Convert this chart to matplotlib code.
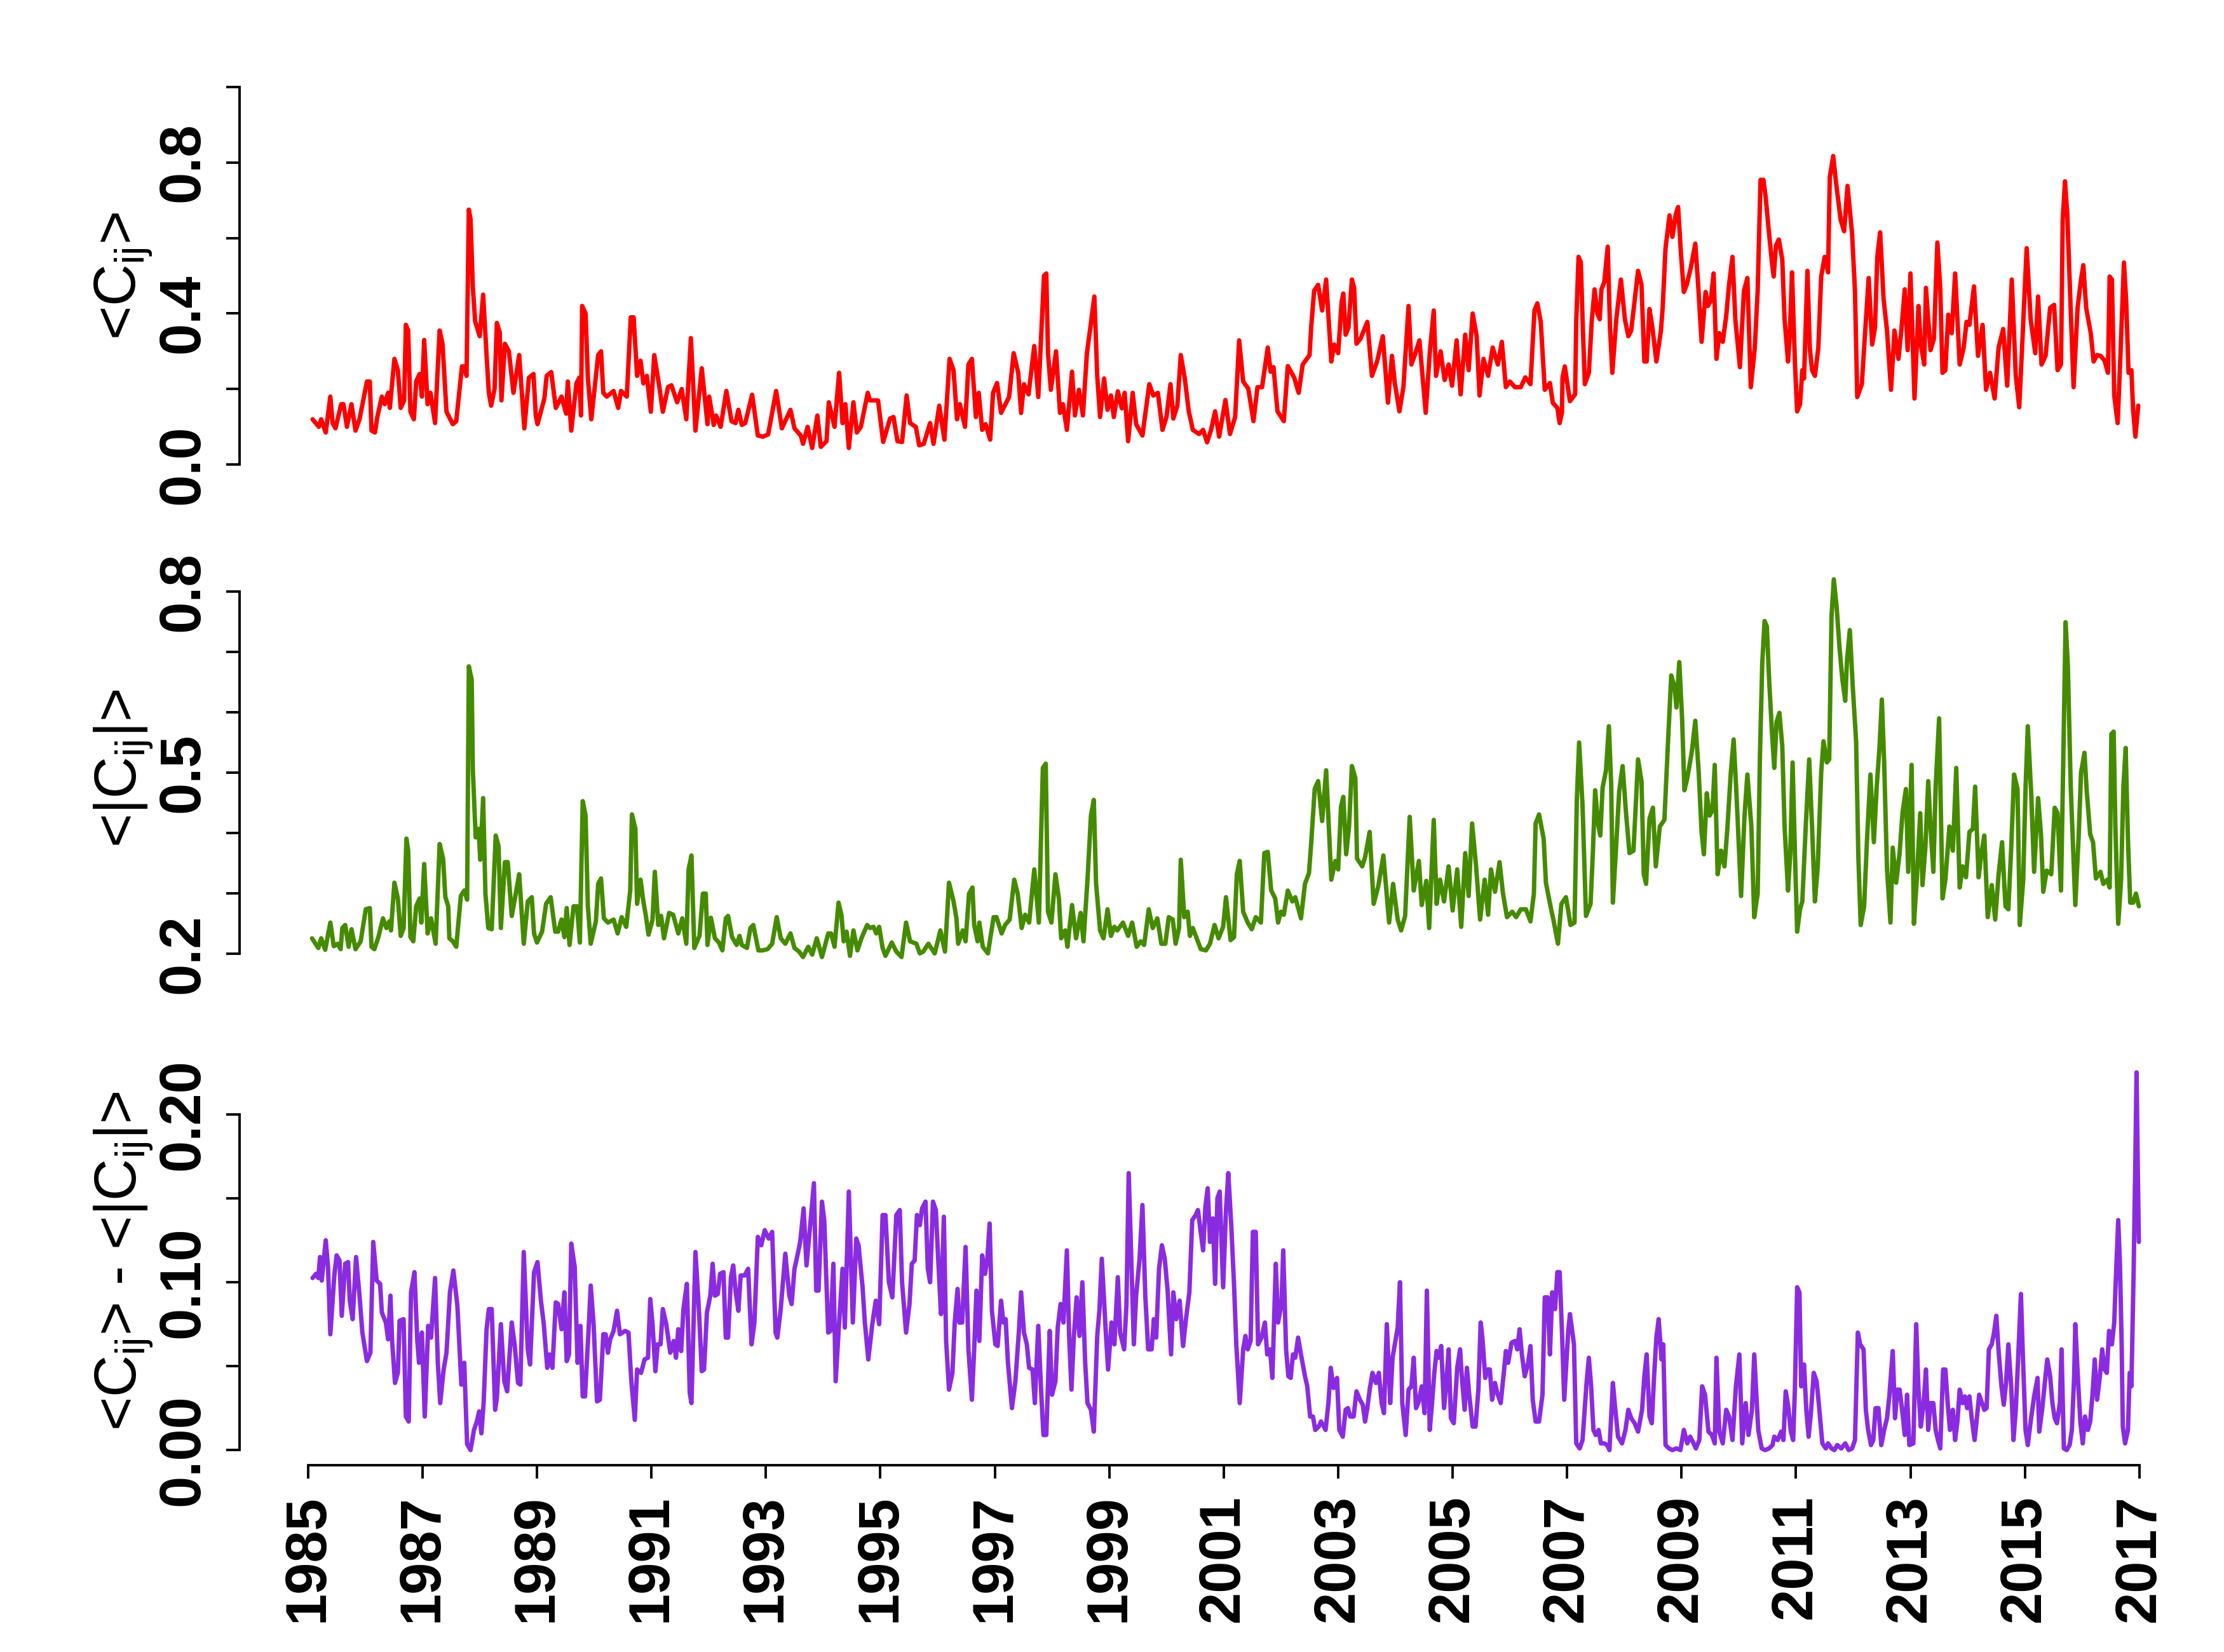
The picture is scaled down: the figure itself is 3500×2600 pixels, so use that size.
import matplotlib
matplotlib.use("Agg")
import matplotlib.pyplot as plt

plt.rcParams['font.family'] = ['Liberation Sans', 'DejaVu Sans']
plt.rcParams['mathtext.fontset'] = 'custom'
plt.rcParams['mathtext.rm'] = 'Liberation Sans'
plt.rcParams['mathtext.it'] = 'Liberation Sans'
plt.rcParams['mathtext.bf'] = 'Liberation Sans:bold'

# ---------------- data (date in years, value) ----------------
mean_c = [
    (1985.08, .12), (1985.19, .10), (1985.23, .12), (1985.31, .085), (1985.39, .18), (1985.43, .11),
    (1985.48, .096), (1985.58, .16), (1985.62, .16), (1985.68, .10), (1985.76, .16), (1985.83, .09),
    (1985.90, .12), (1986.03, .22), (1986.08, .22), (1986.11, .09), (1986.17, .085), (1986.21, .125),
    (1986.29, .18), (1986.34, .16), (1986.40, .19), (1986.43, .15), (1986.51, .28), (1986.57, .25),
    (1986.62, .15), (1986.68, .17), (1986.71, .37), (1986.75, .355), (1986.79, .14), (1986.85, .12),
    (1986.89, .22), (1986.95, .24), (1986.99, .18), (1987.03, .33), (1987.09, .16), (1987.14, .19),
    (1987.22, .11), (1987.30, .355), (1987.35, .32), (1987.42, .14), (1987.53, .107), (1987.59, .115),
    (1987.69, .26), (1987.73, .26), (1987.77, .235), (1987.81, .675), (1987.84, .65), (1987.88, .47),
    (1987.92, .38), (1988.00, .34), (1988.06, .45), (1988.12, .29), (1988.16, .19), (1988.20, .156),
    (1988.26, .20), (1988.30, .375), (1988.35, .35), (1988.38, .17), (1988.44, .32), (1988.51, .30),
    (1988.59, .19), (1988.69, .29), (1988.78, .096), (1988.86, .23), (1988.94, .24), (1988.98, .13),
    (1989.01, .107), (1989.13, .175), (1989.17, .235), (1989.25, .245), (1989.33, .15), (1989.43, .18),
    (1989.51, .135), (1989.54, .22), (1989.60, .09), (1989.69, .215), (1989.74, .23), (1989.77, .13),
    (1989.79, .42), (1989.85, .40), (1989.89, .23), (1989.95, .12), (1990.07, .29), (1990.12, .30),
    (1990.16, .19), (1990.22, .18), (1990.34, .195), (1990.42, .15), (1990.47, .195), (1990.57, .18),
    (1990.64, .39), (1990.69, .39), (1990.75, .235), (1990.81, .275), (1990.86, .215), (1990.92, .235),
    (1990.99, .14), (1991.05, .29), (1991.14, .205), (1991.20, .14), (1991.29, .205), (1991.35, .21),
    (1991.45, .165), (1991.53, .20), (1991.61, .12), (1991.69, .335), (1991.77, .09), (1991.88, .255),
    (1991.98, .107), (1992.01, .18), (1992.09, .105), (1992.13, .13), (1992.21, .10), (1992.31, .195),
    (1992.40, .115), (1992.47, .11), (1992.52, .145), (1992.58, .105), (1992.64, .11), (1992.76, .185),
    (1992.86, .077), (1992.95, .074), (1993.04, .08), (1993.18, .195), (1993.28, .096), (1993.43, .145),
    (1993.50, .096), (1993.61, .077), (1993.65, .055), (1993.73, .10), (1993.81, .044), (1993.90, .13),
    (1993.96, .047), (1994.06, .062), (1994.10, .165), (1994.20, .10), (1994.28, .243), (1994.34, .11),
    (1994.39, .16), (1994.45, .044), (1994.53, .165), (1994.59, .085), (1994.66, .10), (1994.78, .19),
    (1994.82, .17), (1994.96, .17), (1995.05, .06), (1995.17, .122), (1995.23, .126), (1995.30, .062),
    (1995.38, .06), (1995.46, .183), (1995.52, .11), (1995.62, .10), (1995.68, .051), (1995.76, .055),
    (1995.87, .11), (1995.93, .055), (1996.03, .156), (1996.12, .066), (1996.21, .28),
    (1996.28, .25), (1996.34, .12), (1996.39, .16), (1996.48, .10), (1996.54, .265), (1996.60, .28),
    (1996.67, .126), (1996.72, .19), (1996.78, .092), (1996.84, .107), (1996.92, .066), (1996.97, .19),
    (1997.04, .216), (1997.11, .137), (1997.20, .164), (1997.25, .179), (1997.33, .295), (1997.41, .243),
    (1997.46, .137), (1997.51, .213), (1997.59, .186), (1997.69, .314), (1997.76, .179), (1997.86, .50),
    (1997.90, .506), (1997.93, .295), (1997.98, .198), (1998.07, .30), (1998.14, .137), (1998.19, .16),
    (1998.26, .092), (1998.35, .246), (1998.40, .13), (1998.47, .198), (1998.54, .13), (1998.61, .295),
    (1998.67, .363), (1998.74, .445), (1998.79, .235), (1998.84, .126), (1998.91, .228), (1998.97, .145),
    (1999.03, .183), (1999.08, .126), (1999.15, .194), (1999.22, .149), (1999.27, .19), (1999.33, .062),
    (1999.41, .19), (1999.47, .107), (1999.58, .077), (1999.70, .213), (1999.77, .183), (1999.85, .19),
    (1999.93, .092), (2000.00, .126), (2000.07, .213), (2000.12, .122), (2000.19, .156), (2000.25, .29),
    (2000.32, .228), (2000.39, .141), (2000.46, .092), (2000.57, .081), (2000.64, .092), (2000.71, .059),
    (2000.78, .092), (2000.85, .141), (2000.92, .074), (2001.03, .171), (2001.11, .081), (2001.20, .126),
    (2001.27, .329), (2001.34, .22), (2001.43, .201), (2001.52, .115), (2001.59, .205), (2001.67, .205),
    (2001.77, .31), (2001.82, .246), (2001.87, .258), (2001.94, .141), (2002.05, .115), (2002.12, .261),
    (2002.23, .231), (2002.31, .19), (2002.38, .265), (2002.50, .29), (2002.53, .367), (2002.58, .46),
    (2002.65, .476), (2002.72, .408), (2002.79, .49), (2002.88, .273), (2002.93, .318), (2003.00, .295),
    (2003.06, .43), (2003.09, .453), (2003.13, .344), (2003.18, .363), (2003.24, .49), (2003.28, .468),
    (2003.32, .32), (2003.39, .333), (2003.51, .378), (2003.59, .235), (2003.68, .273), (2003.78, .34),
    (2003.87, .164), (2003.94, .288), (2003.99, .216), (2004.07, .141), (2004.14, .205), (2004.23, .42),
    (2004.28, .265), (2004.35, .295), (2004.42, .329), (2004.53, .137), (2004.60, .295), (2004.67, .408),
    (2004.71, .235), (2004.79, .30), (2004.86, .224), (2004.93, .265), (2004.99, .209), (2005.07, .329),
    (2005.14, .186), (2005.22, .344), (2005.28, .25), (2005.35, .40), (2005.42, .34), (2005.47, .183),
    (2005.54, .28), (2005.62, .235), (2005.70, .31), (2005.79, .265), (2005.86, .325), (2005.93, .205),
    (2006.00, .22), (2006.09, .205), (2006.19, .205), (2006.27, .231), (2006.36, .213), (2006.43, .408),
    (2006.48, .427), (2006.54, .378), (2006.61, .198), (2006.70, .216), (2006.75, .164),
    (2006.83, .15), (2006.87, .11), (2006.91, .137), (2006.92, .23), (2006.96, .26), (2007.05, .168),
    (2007.14, .186), (2007.16, .378), (2007.20, .55), (2007.24, .535), (2007.27, .385), (2007.31, .213),
    (2007.38, .243), (2007.43, .378), (2007.48, .464), (2007.53, .40), (2007.57, .385), (2007.60, .464),
    (2007.65, .483), (2007.71, .577), (2007.75, .363), (2007.79, .243), (2007.86, .385), (2007.94, .49),
    (2008.01, .385), (2008.07, .34), (2008.12, .355), (2008.24, .513), (2008.30, .476), (2008.35, .273),
    (2008.39, .273), (2008.44, .412), (2008.49, .363), (2008.56, .273), (2008.64, .355), (2008.67, .415),
    (2008.72, .573), (2008.79, .66), (2008.84, .603), (2008.90, .663), (2008.94, .682), (2008.99, .558),
    (2009.04, .457), (2009.09, .476), (2009.16, .52), (2009.24, .585), (2009.29, .476), (2009.35, .325),
    (2009.42, .457), (2009.46, .42), (2009.51, .434), (2009.56, .506), (2009.61, .28), (2009.66, .348),
    (2009.72, .325), (2009.78, .393), (2009.83, .476), (2009.89, .55), (2009.94, .385), (2010.02, .258),
    (2010.09, .46), (2010.15, .494), (2010.21, .205), (2010.28, .31), (2010.33, .46), (2010.38, .754),
    (2010.43, .754), (2010.47, .708), (2010.52, .626), (2010.58, .535), (2010.61, .498), (2010.65, .58),
    (2010.70, .596), (2010.76, .543), (2010.80, .385), (2010.86, .273), (2010.89, .34), (2010.93, .509),
    (2010.98, .273), (2011.02, .141), (2011.07, .16), (2011.11, .25), (2011.14, .228), (2011.20, .513),
    (2011.24, .31), (2011.28, .25), (2011.33, .235), (2011.39, .31), (2011.44, .498), (2011.50, .55),
    (2011.56, .509), (2011.59, .761), (2011.65, .817), (2011.70, .746), (2011.78, .648), (2011.84, .618),
    (2011.90, .738), (2011.98, .611), (2012.03, .46), (2012.07, .179), (2012.15, .213), (2012.20, .333),
    (2012.27, .494), (2012.33, .318), (2012.38, .363), (2012.42, .55), (2012.47, .615), (2012.53, .438),
    (2012.59, .355), (2012.66, .198), (2012.72, .355), (2012.79, .28), (2012.84, .355), (2012.90, .464),
    (2012.95, .303), (2013.00, .506), (2013.07, .175), (2013.14, .42), (2013.18, .318), (2013.24, .265),
    (2013.27, .468), (2013.35, .303), (2013.41, .333), (2013.47, .588), (2013.52, .468), (2013.56, .243),
    (2013.61, .25), (2013.66, .397), (2013.72, .348), (2013.78, .506), (2013.86, .265), (2013.93, .31),
    (2013.98, .378), (2014.03, .37), (2014.11, .472), (2014.18, .288), (2014.26, .37), (2014.32, .198),
    (2014.39, .243), (2014.47, .175), (2014.54, .31), (2014.62, .359), (2014.69, .209), (2014.77, .49),
    (2014.84, .235), (2014.90, .152), (2014.95, .31), (2015.03, .573), (2015.10, .385), (2015.18, .295),
    (2015.23, .445), (2015.29, .265), (2015.36, .288), (2015.44, .415), (2015.51, .423), (2015.57, .25),
    (2015.63, .265), (2015.66, .648), (2015.70, .75), (2015.74, .663), (2015.80, .408), (2015.85, .205),
    (2015.92, .415), (2015.98, .49), (2016.02, .528), (2016.07, .415), (2016.15, .348), (2016.20, .273),
    (2016.26, .29), (2016.32, .288), (2016.39, .276), (2016.45, .243), (2016.48, .498), (2016.52, .49),
    (2016.56, .183), (2016.62, .11), (2016.67, .295), (2016.73, .535), (2016.77, .43), (2016.81, .243),
    (2016.86, .25), (2016.89, .145), (2016.93, .074), (2016.98, .156),
]

mean_abs_c = [
    (1985.07, .226), (1985.18, .21), (1985.23, .226), (1985.30, .207), (1985.39, .252), (1985.45, .213),
    (1985.52, .217), (1985.57, .208), (1985.60, .243), (1985.65, .248), (1985.71, .212), (1985.76, .241),
    (1985.83, .208), (1985.92, .221), (1986.01, .274), (1986.08, .276), (1986.11, .212), (1986.16, .208),
    (1986.23, .228), (1986.31, .259), (1986.37, .243), (1986.42, .254), (1986.45, .239), (1986.51, .318),
    (1986.57, .292), (1986.62, .23), (1986.67, .243), (1986.72, .391), (1986.75, .371), (1986.79, .228),
    (1986.84, .221), (1986.89, .279), (1986.95, .292), (1986.98, .252), (1987.03, .349), (1987.09, .234),
    (1987.15, .259), (1987.23, .217), (1987.30, .382), (1987.36, .358), (1987.40, .294), (1987.45, .279),
    (1987.47, .226), (1987.53, .221), (1987.59, .212), (1987.67, .296), (1987.73, .305), (1987.78, .29),
    (1987.81, .676), (1987.86, .654), (1987.88, .504), (1987.93, .393), (1987.98, .407), (1988.01, .356),
    (1988.06, .458), (1988.10, .30), (1988.15, .243), (1988.21, .241), (1988.28, .396), (1988.33, .378),
    (1988.37, .243), (1988.44, .352), (1988.49, .352), (1988.56, .263), (1988.64, .305), (1988.69, .332),
    (1988.77, .217), (1988.84, .287), (1988.91, .294), (1988.95, .234), (1989.00, .219), (1989.09, .237),
    (1989.16, .283), (1989.24, .294), (1989.32, .237), (1989.37, .237), (1989.43, .257), (1989.48, .228),
    (1989.52, .276), (1989.57, .215), (1989.64, .279), (1989.70, .279), (1989.75, .219), (1989.80, .453),
    (1989.85, .429), (1989.89, .279), (1989.94, .217), (1990.03, .254), (1990.07, .316), (1990.12, .325),
    (1990.17, .259), (1990.24, .252), (1990.34, .257), (1990.41, .234), (1990.48, .261), (1990.56, .245),
    (1990.63, .305), (1990.66, .431), (1990.72, .407), (1990.75, .283), (1990.81, .323), (1990.86, .287),
    (1990.90, .265), (1990.95, .232), (1991.02, .257), (1991.06, .336), (1991.12, .248), (1991.17, .263),
    (1991.22, .226), (1991.31, .268), (1991.38, .265), (1991.47, .234), (1991.54, .259), (1991.61, .217),
    (1991.65, .34), (1991.70, .363), (1991.75, .21), (1991.84, .23), (1991.90, .30), (1991.95, .30),
    (1991.98, .215), (1992.04, .26), (1992.11, .226), (1992.18, .219), (1992.24, .206), (1992.30, .259),
    (1992.34, .263), (1992.41, .228), (1992.49, .215), (1992.54, .23), (1992.58, .215), (1992.67, .21),
    (1992.73, .243), (1992.78, .248), (1992.87, .206), (1992.94, .206), (1993.03, .208), (1993.11, .217),
    (1993.19, .261), (1993.26, .226), (1993.34, .217), (1993.43, .234), (1993.50, .21), (1993.58, .204),
    (1993.65, .195), (1993.74, .212), (1993.81, .199), (1993.89, .226), (1993.98, .195), (1994.09, .234),
    (1994.14, .234), (1994.20, .212), (1994.27, .285), (1994.32, .265), (1994.36, .221), (1994.41, .237),
    (1994.47, .197), (1994.53, .239), (1994.60, .206), (1994.67, .226), (1994.77, .248), (1994.82, .243),
    (1994.88, .245), (1994.93, .234), (1994.98, .245), (1995.04, .21), (1995.09, .197),
    (1995.20, .219), (1995.28, .204), (1995.37, .195), (1995.45, .252), (1995.52, .221), (1995.63, .217),
    (1995.69, .201), (1995.75, .204), (1995.84, .217), (1995.95, .201), (1996.05, .239), (1996.13, .204),
    (1996.20, .318), (1996.28, .287), (1996.33, .259), (1996.36, .217), (1996.44, .239), (1996.49, .221),
    (1996.55, .30), (1996.61, .31), (1996.64, .248), (1996.70, .221), (1996.73, .252), (1996.79, .212),
    (1996.88, .201), (1996.98, .261), (1997.03, .261), (1997.12, .234), (1997.18, .248), (1997.26, .257),
    (1997.34, .323), (1997.40, .30), (1997.47, .243), (1997.53, .265), (1997.60, .252), (1997.69, .34),
    (1997.77, .252), (1997.84, .508), (1997.89, .515), (1997.93, .27), (1997.99, .252), (1998.06, .332),
    (1998.12, .292), (1998.16, .226), (1998.23, .239), (1998.27, .212), (1998.35, .281), (1998.42, .226),
    (1998.50, .268), (1998.55, .221), (1998.62, .323), (1998.68, .429), (1998.73, .455), (1998.77, .316),
    (1998.84, .239), (1998.90, .226), (1998.97, .274), (1999.03, .23), (1999.09, .245), (1999.14, .239),
    (1999.24, .252), (1999.33, .23), (1999.40, .252), (1999.48, .212), (1999.55, .221), (1999.61, .215),
    (1999.69, .274), (1999.76, .243), (1999.84, .259), (1999.91, .217), (1999.98, .217), (2000.04, .261),
    (2000.11, .257), (2000.16, .217), (2000.22, .243), (2000.25, .356), (2000.31, .261), (2000.37, .27),
    (2000.41, .23), (2000.46, .243), (2000.52, .228), (2000.60, .208), (2000.69, .206), (2000.76, .217),
    (2000.84, .248), (2000.91, .226), (2000.99, .245), (2001.04, .294), (2001.12, .223), (2001.18, .228),
    (2001.23, .332), (2001.28, .354), (2001.34, .27), (2001.42, .252), (2001.49, .241), (2001.56, .261),
    (2001.65, .252), (2001.71, .367), (2001.77, .369), (2001.83, .305), (2001.90, .292), (2001.95, .252),
    (2002.00, .27), (2002.05, .265), (2002.12, .305), (2002.20, .287), (2002.25, .294), (2002.35, .259),
    (2002.42, .316), (2002.49, .334), (2002.53, .385), (2002.59, .473), (2002.65, .486), (2002.72, .42),
    (2002.79, .504), (2002.88, .323), (2002.95, .354), (2003.00, .34), (2003.05, .444), (2003.09, .46),
    (2003.14, .365), (2003.19, .411), (2003.24, .511), (2003.30, .491), (2003.33, .358), (2003.42, .345),
    (2003.47, .36), (2003.55, .402), (2003.62, .283), (2003.70, .312), (2003.79, .363), (2003.89, .252),
    (2003.96, .316), (2004.04, .257), (2004.10, .239), (2004.17, .263), (2004.25, .427), (2004.32, .305),
    (2004.41, .354), (2004.46, .281), (2004.54, .321), (2004.59, .243), (2004.67, .422), (2004.72, .283),
    (2004.78, .323), (2004.85, .287), (2004.93, .345), (2005.00, .272), (2005.08, .34), (2005.15, .245),
    (2005.22, .367), (2005.28, .296), (2005.34, .416), (2005.41, .345), (2005.48, .257), (2005.56, .323),
    (2005.62, .265), (2005.67, .34), (2005.74, .303), (2005.82, .352), (2005.88, .30), (2005.95, .261),
    (2006.04, .27), (2006.11, .261), (2006.19, .274),
    (2006.28, .274), (2006.36, .254), (2006.42, .30), (2006.45, .416), (2006.51, .431), (2006.59, .391),
    (2006.63, .318), (2006.71, .279), (2006.76, .257), (2006.84, .217), (2006.90, .283), (2006.98, .294),
    (2007.06, .248), (2007.13, .252), (2007.17, .455), (2007.21, .55), (2007.27, .446), (2007.33, .263),
    (2007.41, .283), (2007.45, .367), (2007.49, .471), (2007.54, .416), (2007.58, .396), (2007.62, .475),
    (2007.68, .504), (2007.73, .577), (2007.77, .482), (2007.80, .285), (2007.85, .367), (2007.91, .469),
    (2007.97, .511), (2008.03, .433), (2008.09, .367), (2008.16, .371), (2008.24, .522), (2008.30, .486),
    (2008.34, .332), (2008.38, .316), (2008.44, .424), (2008.50, .442), (2008.55, .345), (2008.62, .411),
    (2008.70, .422), (2008.76, .544), (2008.82, .661), (2008.88, .641), (2008.91, .608), (2008.96, .683),
    (2009.01, .588), (2009.05, .471), (2009.10, .491), (2009.18, .535), (2009.24, .586), (2009.30, .50),
    (2009.35, .402), (2009.39, .365), (2009.44, .466), (2009.49, .429), (2009.54, .438), (2009.58, .513),
    (2009.63, .332), (2009.69, .371), (2009.75, .345), (2009.80, .407), (2009.86, .50), (2009.91, .555),
    (2009.96, .464), (2010.04, .296), (2010.10, .429), (2010.15, .497), (2010.22, .411), (2010.27, .261),
    (2010.33, .30), (2010.37, .53), (2010.41, .681), (2010.45, .751), (2010.49, .742), (2010.53, .654),
    (2010.58, .566), (2010.62, .508), (2010.66, .584), (2010.71, .599), (2010.76, .544), (2010.80, .411),
    (2010.86, .305), (2010.90, .367), (2010.94, .517), (2010.98, .371), (2011.02, .237), (2011.07, .274),
    (2011.11, .287), (2011.17, .411), (2011.23, .522), (2011.28, .411), (2011.33, .287), (2011.38, .345),
    (2011.44, .50), (2011.48, .552), (2011.54, .517), (2011.58, .522), (2011.62, .758), (2011.66, .82),
    (2011.71, .774), (2011.76, .707), (2011.81, .654), (2011.86, .619), (2011.89, .685), (2011.94, .736),
    (2011.99, .645), (2012.05, .552), (2012.09, .358), (2012.13, .248), (2012.19, .279), (2012.24, .389),
    (2012.30, .497), (2012.36, .385), (2012.41, .477), (2012.46, .544), (2012.50, .621), (2012.54, .517),
    (2012.59, .34), (2012.65, .252), (2012.69, .376), (2012.75, .318), (2012.81, .367), (2012.86, .433),
    (2012.92, .473), (2012.96, .336), (2013.02, .513), (2013.06, .25), (2013.11, .323), (2013.17, .433),
    (2013.21, .314), (2013.26, .376), (2013.31, .486), (2013.35, .411), (2013.40, .336), (2013.44, .477),
    (2013.50, .59), (2013.56, .292), (2013.61, .323), (2013.68, .411), (2013.74, .371), (2013.80, .508),
    (2013.86, .31), (2013.91, .345), (2013.97, .327), (2014.03, .402), (2014.09, .407), (2014.13, .477),
    (2014.19, .327), (2014.24, .367), (2014.29, .396), (2014.35, .261), (2014.42, .314), (2014.48, .257),
    (2014.54, .332), (2014.60, .385), (2014.66, .279), (2014.71, .274), (2014.76, .376), (2014.81, .497),
    (2014.87, .473), (2014.91, .248), (2014.97, .323), (2015.01, .473), (2015.05, .577), (2015.11, .464),
    (2015.16, .336), (2015.23, .458), (2015.28, .398), (2015.32, .303), (2015.38, .338), (2015.46, .332),
    (2015.52, .442), (2015.57, .433), (2015.63, .305), (2015.67, .522), (2015.71, .749), (2015.75, .676),
    (2015.80, .477), (2015.88, .281), (2015.94, .398), (2015.98, .50), (2016.04, .533), (2016.08, .469),
    (2016.14, .398), (2016.19, .385), (2016.24, .325), (2016.32, .336), (2016.37, .316), (2016.44, .323),
    (2016.48, .31), (2016.51, .564), (2016.55, .568), (2016.58, .411), (2016.63, .25), (2016.68, .323),
    (2016.72, .477), (2016.76, .541), (2016.80, .389), (2016.84, .285), (2016.89, .285), (2016.94, .30),
    (2016.99, .279),
]

diff_c = [
    (1985.08, .1025), (1985.14, .105), (1985.18, .1025), (1985.21, .115), (1985.24, .101), (1985.31, .125),
    (1985.35, .109), (1985.39, .069), (1985.46, .104), (1985.50, .116), (1985.55, .113), (1985.59, .08),
    (1985.65, .111), (1985.70, .112), (1985.73, .089), (1985.78, .078), (1985.84, .115), (1985.90, .092),
    (1985.95, .07), (1986.03, .053), (1986.09, .058), (1986.14, .124), (1986.20, .101), (1986.26, .099),
    (1986.29, .082), (1986.36, .076), (1986.40, .066), (1986.44, .092), (1986.47, .065), (1986.52, .04),
    (1986.57, .046), (1986.60, .077), (1986.67, .078), (1986.71, .02), (1986.76, .017), (1986.80, .094),
    (1986.86, .106), (1986.91, .065), (1986.94, .052), (1986.99, .07), (1987.04, .02), (1987.10, .074),
    (1987.15, .067), (1987.22, .1025), (1987.27, .051), (1987.31, .028), (1987.37, .048), (1987.42, .058),
    (1987.48, .094), (1987.54, .107), (1987.61, .086), (1987.68, .039), (1987.73, .052), (1987.78, .0035),
    (1987.84, .0), (1987.90, .012), (1987.95, .017), (1987.99, .023), (1988.03, .01), (1988.07, .029),
    (1988.12, .072), (1988.16, .084), (1988.21, .084), (1988.27, .024), (1988.30, .031), (1988.37, .075),
    (1988.43, .041), (1988.48, .035), (1988.56, .076), (1988.61, .063), (1988.67, .04), (1988.71, .039),
    (1988.77, .118), (1988.84, .06), (1988.88, .051), (1988.95, .106), (1989.01, .112), (1989.07, .089),
    (1989.12, .075), (1989.18, .049), (1989.22, .057), (1989.27, .049), (1989.33, .088), (1989.37, .087),
    (1989.43, .072), (1989.48, .094), (1989.52, .053), (1989.56, .057), (1989.60, .123), (1989.66, .109),
    (1989.71, .052), (1989.76, .074), (1989.80, .032), (1989.84, .032), (1989.90, .07), (1989.94, .098),
    (1989.99, .075), (1990.05, .029), (1990.10, .03), (1990.16, .069), (1990.20, .069), (1990.24, .058),
    (1990.28, .066), (1990.34, .071), (1990.40, .083), (1990.45, .069), (1990.54, .071), (1990.60, .07),
    (1990.65, .041), (1990.71, .018), (1990.75, .048), (1990.82, .046), (1990.88, .054), (1990.94, .055),
    (1990.98, .09), (1991.02, .075), (1991.07, .047), (1991.11, .063), (1991.16, .063), (1991.20, .084),
    (1991.26, .075), (1991.33, .058), (1991.39, .065), (1991.43, .055), (1991.47, .072), (1991.52, .059),
    (1991.56, .084), (1991.62, .099), (1991.67, .034), (1991.70, .028), (1991.77, .118), (1991.83, .084),
    (1991.88, .047), (1991.92, .048), (1991.97, .082), (1992.03, .092), (1992.07, .111), (1992.11, .092),
    (1992.16, .093), (1992.20, .105), (1992.26, .106), (1992.30, .067), (1992.34, .067),
    (1992.39, .103), (1992.43, .11), (1992.47, .095), (1992.52, .083), (1992.56, .104), (1992.63, .104),
    (1992.69, .108), (1992.75, .063), (1992.80, .076), (1992.86, .127), (1992.92, .122), (1992.98, .131),
    (1993.05, .126), (1993.11, .13), (1993.17, .07), (1993.20, .067), (1993.26, .084), (1993.34, .117),
    (1993.41, .092), (1993.45, .087), (1993.50, .108), (1993.54, .114), (1993.60, .124), (1993.66, .144),
    (1993.71, .11), (1993.77, .132), (1993.84, .159), (1993.88, .095), (1993.92, .095), (1993.98, .148),
    (1994.02, .137), (1994.09, .07), (1994.13, .071), (1994.18, .111), (1994.22, .041), (1994.28, .076),
    (1994.34, .108), (1994.38, .073), (1994.45, .154), (1994.52, .076), (1994.58, .126), (1994.62, .122),
    (1994.69, .097), (1994.73, .076), (1994.79, .054), (1994.86, .075), (1994.92, .089), (1994.98, .075),
    (1995.04, .14), (1995.09, .14), (1995.15, .10), (1995.21, .091), (1995.28, .14), (1995.34, .143),
    (1995.38, .10), (1995.45, .07), (1995.51, .087), (1995.55, .111), (1995.60, .113), (1995.64, .14),
    (1995.69, .134), (1995.73, .144), (1995.79, .148), (1995.83, .108), (1995.87, .10), (1995.92, .148),
    (1995.97, .143), (1996.02, .108), (1996.06, .081), (1996.11, .139), (1996.15, .065), (1996.20, .036),
    (1996.26, .046), (1996.30, .076), (1996.35, .096), (1996.38, .076), (1996.43, .076), (1996.49, .121),
    (1996.54, .06), (1996.60, .03), (1996.64, .06), (1996.68, .095), (1996.73, .065), (1996.78, .116),
    (1996.83, .105), (1996.87, .114), (1996.91, .135), (1996.95, .083), (1997.01, .063), (1997.05, .062),
    (1997.11, .089), (1997.15, .076), (1997.19, .078), (1997.23, .052), (1997.30, .025), (1997.36, .041),
    (1997.42, .07), (1997.46, .094), (1997.51, .07), (1997.56, .063), (1997.60, .049), (1997.66, .048),
    (1997.70, .028), (1997.76, .074), (1997.81, .035), (1997.85, .009), (1997.90, .009), (1997.96, .071),
    (1998.00, .033), (1998.06, .041), (1998.10, .073), (1998.15, .087), (1998.20, .076), (1998.26, .119),
    (1998.30, .067), (1998.34, .036), (1998.38, .067), (1998.43, .091), (1998.48, .068), (1998.53, .10),
    (1998.58, .052), (1998.62, .028), (1998.68, .024), (1998.73, .011), (1998.79, .068), (1998.83, .084),
    (1998.87, .114), (1998.94, .07), (1998.98, .048), (1999.04, .076), (1999.09, .063), (1999.15, .103),
    (1999.19, .07), (1999.26, .06), (1999.30, .086), (1999.34, .165), (1999.39, .108), (1999.43, .063),
    (1999.47, .092), (1999.53, .114), (1999.58, .146), (1999.63, .092), (1999.68, .06), (1999.74, .06),
    (1999.78, .078), (1999.82, .067), (1999.87, .108), (1999.92, .122), (1999.97, .114), (2000.02, .095),
    (2000.08, .057), (2000.12, .094), (2000.17, .078), (2000.23, .089), (2000.29, .062), (2000.34, .078),
    (2000.40, .094), (2000.45, .137), (2000.51, .14), (2000.55, .143), (2000.59, .132), (2000.64, .119),
    (2000.68, .145), (2000.72, .156), (2000.76, .124), (2000.81, .138), (2000.85, .099), (2000.89, .15),
    (2000.93, .154), (2000.99, .097), (2001.04, .143), (2001.08, .165), (2001.13, .135), (2001.18, .099),
    (2001.22, .063), (2001.28, .028), (2001.34, .06), (2001.38, .068), (2001.42, .06), (2001.47, .065),
    (2001.51, .13), (2001.56, .13), (2001.60, .063), (2001.66, .067), (2001.72, .076), (2001.76, .057),
    (2001.81, .06), (2001.85, .043), (2001.91, .111), (2001.95, .076), (2002.01, .087), (2002.04, .119),
    (2002.09, .06), (2002.13, .044), (2002.17, .043), (2002.21, .057), (2002.25, .055), (2002.30, .067),
    (2002.35, .057), (2002.42, .044), (2002.46, .038), (2002.51, .02), (2002.56, .02), (2002.60, .012),
    (2002.66, .014), (2002.70, .017), (2002.75, .014), (2002.78, .012), (2002.83, .028), (2002.87, .049),
    (2002.92, .037), (2002.98, .043), (2003.02, .012), (2003.08, .008), (2003.13, .024), (2003.17, .025),
    (2003.21, .02), (2003.27, .02), (2003.32, .035), (2003.38, .03), (2003.43, .027), (2003.47, .017),
    (2003.51, .025), (2003.55, .036), (2003.60, .046), (2003.66, .04), (2003.71, .046), (2003.76, .028),
    (2003.80, .022), (2003.85, .075), (2003.91, .028), (2003.95, .055), (2003.99, .063), (2004.04, .073),
    (2004.08, .10), (2004.12, .028), (2004.18, .009), (2004.23, .036), (2004.28, .038), (2004.32, .055),
    (2004.36, .025), (2004.40, .028), (2004.46, .038), (2004.51, .022), (2004.55, .095), (2004.60, .012),
    (2004.64, .028), (2004.68, .046), (2004.72, .059), (2004.76, .055), (2004.80, .062), (2004.85, .025),
    (2004.89, .04), (2004.93, .06), (2004.97, .019), (2005.02, .016), (2005.08, .049), (2005.13, .06),
    (2005.16, .044),
    (2005.21, .024), (2005.25, .049), (2005.29, .033), (2005.35, .014), (2005.40, .014), (2005.45, .036),
    (2005.49, .076), (2005.52, .067), (2005.57, .043), (2005.61, .048), (2005.65, .048), (2005.69, .03),
    (2005.74, .04), (2005.78, .034), (2005.84, .028), (2005.90, .048), (2005.93, .059), (2005.97, .052),
    (2006.03, .064), (2006.09, .065), (2006.13, .06), (2006.17, .072), (2006.21, .057), (2006.26, .044),
    (2006.32, .052), (2006.36, .062), (2006.40, .03), (2006.45, .017), (2006.51, .017), (2006.57, .033),
    (2006.61, .091), (2006.66, .091), (2006.70, .057), (2006.74, .094), (2006.79, .084), (2006.83, .106),
    (2006.87, .106), (2006.91, .071), (2006.95, .03), (2007.02, .071), (2007.05, .081), (2007.12, .063),
    (2007.16, .004), (2007.22, .001), (2007.27, .006), (2007.34, .04), (2007.38, .055), (2007.42, .038),
    (2007.46, .012), (2007.50, .009), (2007.55, .012), (2007.59, .004), (2007.65, .004), (2007.70, .003),
    (2007.74, .0), (2007.80, .04), (2007.84, .025), (2007.89, .008), (2007.96, .004), (2008.02, .012),
    (2008.07, .024), (2008.12, .019), (2008.18, .016), (2008.24, .011), (2008.31, .024), (2008.35, .044),
    (2008.39, .057), (2008.44, .02), (2008.48, .016), (2008.52, .044), (2008.56, .067), (2008.60, .078),
    (2008.65, .054), (2008.68, .063), (2008.72, .003), (2008.78, .001), (2008.84, .0), (2008.91, .001),
    (2008.98, .0), (2009.04, .012), (2009.10, .004), (2009.15, .008), (2009.21, .004), (2009.25, .001),
    (2009.31, .006), (2009.36, .038), (2009.41, .033), (2009.47, .011), (2009.53, .009), (2009.58, .004),
    (2009.61, .055), (2009.66, .011), (2009.72, .004), (2009.78, .024), (2009.83, .02), (2009.89, .006),
    (2009.95, .038), (2010.01, .057), (2010.06, .004), (2010.12, .028), (2010.17, .009), (2010.23, .024),
    (2010.27, .057), (2010.34, .012), (2010.40, .001), (2010.46, .0), (2010.53, .001), (2010.59, .003),
    (2010.62, .008), (2010.68, .006), (2010.74, .011), (2010.78, .006), (2010.82, .035), (2010.86, .027),
    (2010.91, .011), (2010.95, .006), (2010.98, .036), (2011.02, .097), (2011.06, .094), (2011.09, .038),
    (2011.14, .051), (2011.18, .024), (2011.22, .008), (2011.26, .022), (2011.31, .046), (2011.36, .041),
    (2011.40, .027), (2011.46, .004), (2011.52, .001), (2011.56, .004), (2011.62, .001), (2011.67, .0),
    (2011.72, .003), (2011.79, .001), (2011.86, .004), (2011.92, .0), (2011.98, .001), (2012.03, .006),
    (2012.08, .07), (2012.12, .063), (2012.18, .06), (2012.22, .024), (2012.26, .012), (2012.31, .003),
    (2012.35, .006), (2012.39, .025), (2012.44, .025), (2012.49, .003), (2012.54, .012), (2012.59, .019),
    (2012.63, .032), (2012.69, .059), (2012.73, .019), (2012.77, .036), (2012.81, .036), (2012.86, .022),
    (2012.90, .009), (2012.94, .033), (2012.98, .003), (2013.05, .004), (2013.10, .075), (2013.14, .036),
    (2013.18, .014), (2013.23, .028), (2013.27, .048), (2013.31, .012), (2013.35, .028), (2013.40, .028),
    (2013.44, .012), (2013.48, .006), (2013.52, .001), (2013.57, .048), (2013.61, .048), (2013.65, .028),
    (2013.69, .012), (2013.74, .024), (2013.78, .006), (2013.82, .017), (2013.86, .036), (2013.91, .028),
    (2013.95, .032), (2013.99, .025), (2014.03, .032), (2014.07, .019), (2014.12, .006), (2014.16, .019),
    (2014.20, .033), (2014.25, .028), (2014.29, .024), (2014.33, .025), (2014.37, .06), (2014.42, .063),
    (2014.46, .07), (2014.50, .08), (2014.54, .059), (2014.59, .038), (2014.63, .027), (2014.67, .04),
    (2014.71, .063), (2014.76, .038), (2014.80, .006), (2014.84, .024), (2014.88, .054), (2014.93, .093),
    (2014.96, .06), (2015.01, .012), (2015.05, .003), (2015.10, .017), (2015.16, .032), (2015.22, .043),
    (2015.25, .011), (2015.30, .024), (2015.35, .041), (2015.39, .054), (2015.44, .044), (2015.48, .028),
    (2015.52, .019), (2015.56, .016), (2015.61, .028), (2015.64, .06), (2015.68, .001), (2015.73, .0),
    (2015.78, .003), (2015.82, .012), (2015.86, .044), (2015.88, .075), (2015.93, .04), (2015.97, .016),
    (2016.01, .004), (2016.05, .02), (2016.10, .012), (2016.14, .017), (2016.18, .033), (2016.22, .054),
    (2016.26, .03), (2016.31, .044), (2016.35, .06), (2016.39, .048), (2016.43, .046), (2016.47, .071),
    (2016.52, .063), (2016.56, .076), (2016.58, .095), (2016.63, .137), (2016.66, .111), (2016.69, .063),
    (2016.71, .014), (2016.75, .004), (2016.80, .012), (2016.83, .046), (2016.86, .038), (2016.90, .108),
    (2016.93, .175), (2016.95, .225), (2016.97, .172), (2016.99, .124),
]

year_ticks = list(range(1985, 2018, 2))
panel_labels = [r'<$C_{ij}$>', r'<|$C_{ij}$|>', r'<$C_{ij}$> - <|$C_{ij}$|>']
panel_colors = ['#FF0000', '#458B00', '#8A2BE2']
panel_yticks = [[0.0, 0.2, 0.4, 0.6, 0.8, 1.0],
                [0.2, 0.3, 0.4, 0.5, 0.6, 0.7, 0.8],
                [0.0, 0.05, 0.10, 0.15, 0.20]]
panel_ylabels = [['0.0', '', '0.4', '', '0.8', ''],
                 ['0.2', '', '', '0.5', '', '', '0.8'],
                 ['0.00', '', '0.10', '', '0.20']]
series = [mean_c, mean_abs_c, diff_c]

# ---------------- layout ----------------
W, H = 3500, 2600
fig = plt.figure(figsize=(W / 100, H / 100), dpi=100)
left_px, right_px = 377, 3480
panel_top_px = [113, 888, 1664]
panel_h_px = 642

all_t = [p[0] for p in mean_c]
t0, t1 = min(all_t), max(all_t)
xpad = 0.04 * (t1 - t0)

TICK_FS = 65
LAB_FS = 66
AX_LW = 2.8

for i, (pts, col) in enumerate(zip(series, panel_colors)):
    top = panel_top_px[i]
    ax = fig.add_axes([left_px / W, 1 - (top + panel_h_px) / H,
                       (right_px - left_px) / W, panel_h_px / H])
    t = [p[0] for p in pts]
    v = [p[1] for p in pts]
    ax.plot(t, v, color=col, lw=5.0, solid_joinstyle='round', solid_capstyle='round')
    ax.set_xlim(t0 - xpad, t1 + xpad)
    if i == 0:
        lo, hi = 0.0, 1.0
    else:
        lo, hi = min(v), max(v)
    ypad = 0.04 * (hi - lo)
    ax.set_ylim(lo - ypad, hi + ypad)

    for s in ['top', 'right']:
        ax.spines[s].set_visible(False)
    ax.spines['left'].set_linewidth(AX_LW)
    ax.spines['left'].set_bounds(panel_yticks[i][0], panel_yticks[i][-1])
    ax.set_yticks(panel_yticks[i])
    ax.set_yticklabels(panel_ylabels[i], rotation=90, va='center', ha='right',
                       fontweight='bold', fontsize=TICK_FS)
    ax.tick_params(axis='y', length=15, width=AX_LW, pad=18, direction='out')

    if i == 2:
        ax.spines['bottom'].set_linewidth(AX_LW)
        ax.spines['bottom'].set_bounds(year_ticks[0], year_ticks[-1])
        ax.set_xticks(year_ticks)
        ax.set_xticklabels([str(y) for y in year_ticks], rotation=90, ha='center', va='top',
                           fontweight='bold', fontsize=TICK_FS)
        ax.tick_params(axis='x', length=15, width=AX_LW, pad=18, direction='out')
    else:
        ax.spines['bottom'].set_visible(False)
        ax.set_xticks([])

    fig.text(195 / W, 1 - (top + panel_h_px / 2) / H, panel_labels[i], rotation=90,
             ha='center', va='center', fontsize=LAB_FS)

fig.savefig('out.png', dpi=100, facecolor='white')
